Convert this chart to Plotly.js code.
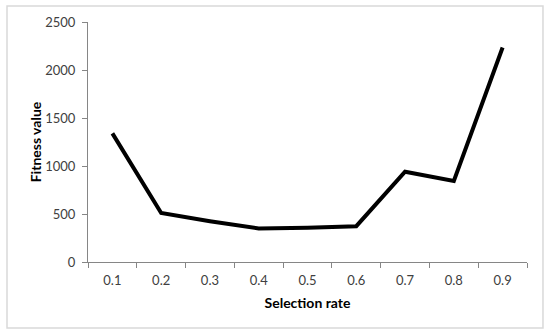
<!DOCTYPE html>
<html>
<head>
<meta charset="utf-8">
<script src="https://cdn.plot.ly/plotly-3.0.1.min.js"></script>
<style>
  body { margin: 0; }
  #chart { width: 550px; height: 335px; }
</style>
</head>
<body>
<div id="chart"></div>
<script>
// selection rate vs fitness value
var rates = ["0.1", "0.2", "0.3", "0.4", "0.5", "0.6", "0.7", "0.8", "0.9"];
var fitness = [1340, 510, 425, 350, 358, 373, 940, 845, 2235];
var yTicks = [0, 500, 1000, 1500, 2000, 2500];

var trace = [{
    x: rates,
    y: fitness,
    type: "scatter",
    mode: "lines",
    line: { color: "#000000", width: 4 },
    hoverinfo: "x+y"
}];

var layout = {
    width: 550,
    height: 335,
    margin: { l: 88, r: 23, t: 22, b: 73 },
    paper_bgcolor: "#ffffff",
    plot_bgcolor: "#ffffff",
    font: { family: "Lato, 'Open Sans', sans-serif", size: 13, color: "#404040" },
    showlegend: false,
    xaxis: {
        type: "category",
        range: [-0.5, 8.5],
        tickson: "boundaries",
        ticks: "outside",
        ticklen: 5,
        tickcolor: "#868686",
        showline: true,
        linecolor: "#868686",
        linewidth: 1,
        showgrid: false,
        zeroline: false,
        ticklabelstandoff: 6,
        title: { text: "Selection rate", font: { size: 14, color: "#000000", weight: "bold" }, standoff: 11 }
    },
    yaxis: {
        range: [0, 2500],
        tickvals: yTicks,
        ticks: "outside",
        ticklen: 5,
        tickcolor: "#868686",
        showline: true,
        linecolor: "#868686",
        linewidth: 1,
        showgrid: false,
        zeroline: false,
        ticklabelstandoff: 4,
        title: { text: "Fitness value", font: { size: 14, color: "#000000", weight: "bold" }, standoff: 0 }
    },
    shapes: [{
        type: "rect",
        xref: "paper", yref: "paper",
        x0: -0.1845, x1: 1.0364, y0: -0.275, y1: 1.0667,
        line: { color: "#d9d9d9", width: 1.5 },
        fillcolor: "rgba(0,0,0,0)",
        layer: "below"
    }]
};

Plotly.newPlot("chart", trace, layout, { displayModeBar: false, staticPlot: true });
</script>
</body>
</html>
